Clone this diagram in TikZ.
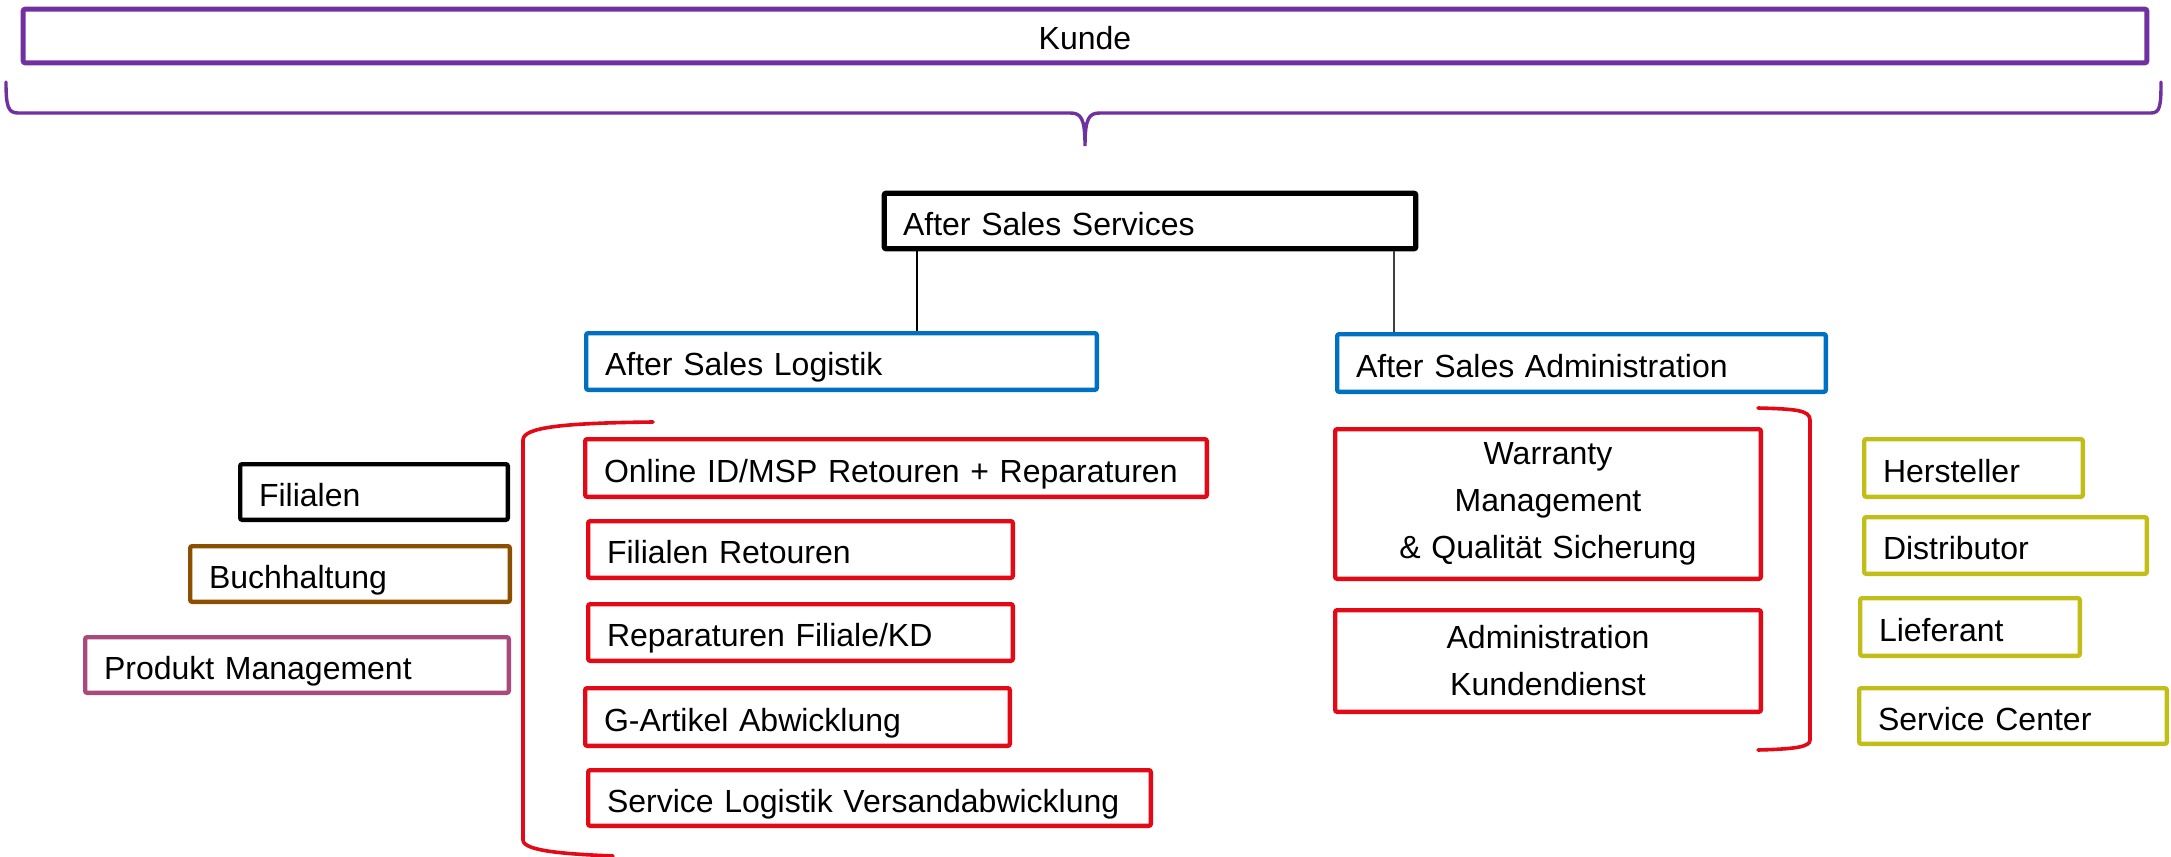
\documentclass[tikz,border=0pt]{standalone}
\usepackage{fontspec}
\setmainfont{Liberation Sans}
\definecolor{cpurple}{HTML}{7030A0}
\definecolor{cblue}{HTML}{0070C0}
\definecolor{cred}{HTML}{E30A17}
\definecolor{cbrown}{HTML}{8C4F00}
\definecolor{cpink}{HTML}{AA4A7C}
\definecolor{colive}{HTML}{C0BE17}
\tikzset{
  bxs/.style={rectangle, line width=2.2pt, rounded corners=1pt, inner xsep=9.4pt, inner ysep=0pt,
    align=left, text height=14pt, text depth=0pt, font=\fontsize{16}{23.5}\selectfont},
  brk/.style={line width=1.8pt, line cap=round},
  conn/.style={line width=1pt}
}
\newcommand\bx[8][]{%
  \pgfmathsetmacro\bw{(#6-#4)*0.5-2.2}%
  \pgfmathsetmacro\bh{(#7-#5)*0.5-2.2}%
  \pgfmathsetmacro\tw{\bw-18.8}%
  \node[bxs, draw=#3, minimum width=\bw pt, minimum height=\bh pt, text width=\tw pt, #1]
    (#2) at ({(#4+#6)/2},{(#5+#7)/2}) {#8};%
}
\begin{document}
\begin{tikzpicture}[x=0.5pt,y=-0.5pt]
\useasboundingbox (0,0) rectangle (2171,856);
% top
\bx[align=center, line width=2.5pt]{kunde}{cpurple}{21}{7}{2149}{65}{Kunde}
\draw[brk, cpurple, line width=1.7pt] (6,82) .. controls (6,106) and (8,113) .. (18,113) -- (1070,113)
  .. controls (1081,113) and (1085,118) .. (1085,146)
  .. controls (1085,118) and (1089,113) .. (1100,113) -- (2151,113)
  .. controls (2160,113) and (2161,106) .. (2161,82);
% level 1 and 2
\bx[line width=2.6pt]{ass}{black}{882}{191}{1418}{251}{After Sales Services}
\bx{asl}{cblue}{584}{331}{1099}{392}{After Sales Logistik}
\bx{asa}{cblue}{1335}{332}{1828}{394}{After Sales Administration}
\coordinate (c1) at (917,0);
\coordinate (c2) at (1394,0);
\draw[conn] (ass.south -| c1) -- (asl.north -| c1);
\draw[conn, line width=0.8pt, black!75] (ass.south -| c2) -- (asa.north -| c2);
% left red group
\bx{online}{cred}{583}{437}{1209}{499}{Online ID/MSP Retouren + Reparaturen}
\bx{filret}{cred}{586}{519}{1015}{580}{Filialen Retouren}
\bx{rep}{cred}{586}{602}{1015}{663}{Reparaturen Filiale/KD}
\bx{gart}{cred}{583}{686}{1012}{748}{G-Artikel Abwicklung}
\bx{slv}{cred}{586}{768}{1153}{828}{Service Logistik Versandabwicklung}
\draw[brk, cred] (653,422) .. controls (565,423) and (523,427) .. (523,440) -- (523,840)
  .. controls (523,851) and (565,854) .. (613,856);
% far left
\bx{fil}{black}{238}{462}{510}{522}{Filialen}
\bx{buch}{cbrown}{188}{544}{512}{604}{Buchhaltung}
\bx{pm}{cpink}{83}{635}{511}{695}{Produkt Management}
% right red group
\bx[align=center, text height={}, text depth={}]{warr}{cred}{1333}{427}{1763}{581}{Warranty\\Management\\\& Qualität Sicherung}
\bx[align=center, text height={}, text depth={}]{admin}{cred}{1333}{608}{1763}{714}{Administration\\Kundendienst}
\draw[brk, cred] (1758,408) .. controls (1795,409) and (1810,410) .. (1810,420) -- (1810,740)
  .. controls (1810,747) and (1795,749) .. (1758,750);
% far right
\bx{her}{colive}{1862}{437}{2085}{499}{Hersteller}
\bx{dis}{colive}{1862}{515}{2149}{576}{Distributor}
\bx{lief}{colive}{1858}{596}{2082}{658}{Lieferant}
\bx{sc}{colive}{1857}{686}{2169}{746}{Service Center}
\end{tikzpicture}
\end{document}
